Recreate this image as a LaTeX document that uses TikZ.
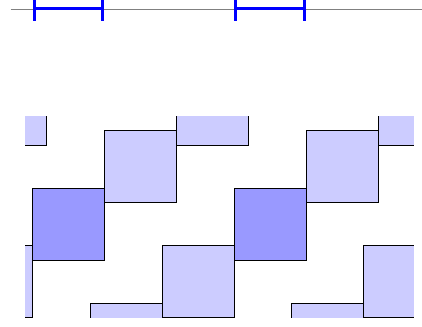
\documentclass[tikz,border=0pt]{standalone}
\usetikzlibrary{calc}
\tikzset{
  tile/.style     = {draw=black, line width=0.8pt, fill=blue!20},
  darktile/.style = {tile, fill=blue!40},
  bar/.style      = {draw=blue, line width=3pt},
  axisline/.style = {draw=gray, line width=0.8pt},
}
\begin{document}
\begin{tikzpicture}[x=72pt,y=72pt]
  \useasboundingbox (-0.4486,-0.926) rectangle (5.4125,3.615);
  \draw[axisline] (-0.3,3.49) -- (5.5,3.49);
  \foreach \x in {0,2.8}
    {\draw[bar] (\x+0.025,3.7) -- (\x+0.025,3.33)
                (\x+0.025,3.49) -- (\x+0.975,3.49)
                (\x+0.975,3.7) -- (\x+0.975,3.33);}
  \begin{scope}
    \clip (-0.1,-0.8) rectangle (5.3,2);
    \foreach \i in {-3,...,8}
      \foreach \j in {-3,...,4}
        {\draw[tile] ({\i+0.8*\j},{0.8*\i-1.6*\j}) rectangle ++(1,1);}
    \foreach \k in {0,1}
      {\draw[darktile] (2.8*\k,0) rectangle ++(1,1);}
  \end{scope}
\end{tikzpicture}
\end{document}
